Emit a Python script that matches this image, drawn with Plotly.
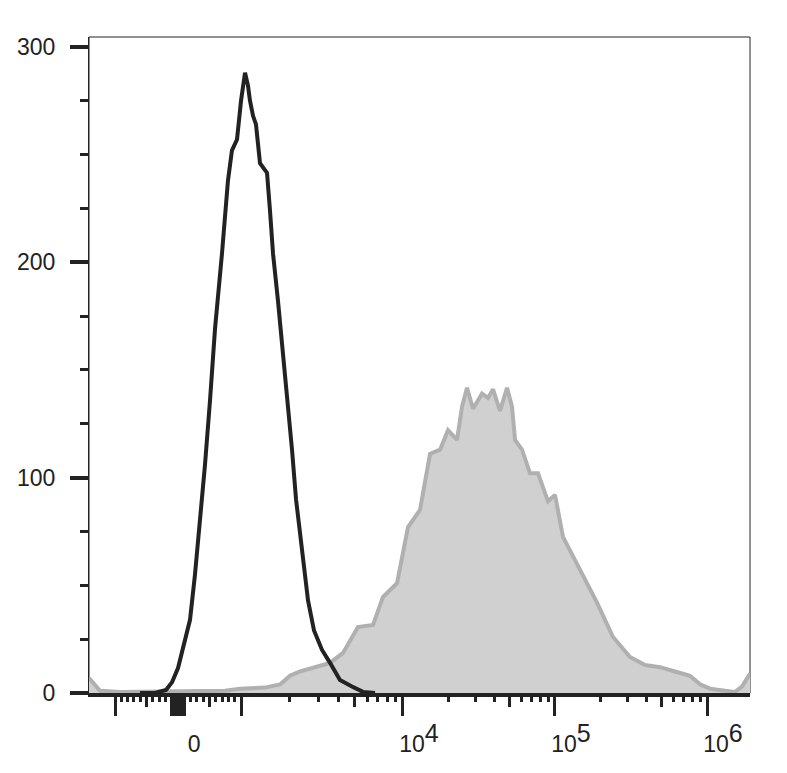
import numpy as np
import plotly.graph_objects as go

# display channels (0-1024) on a biexponential-style scale
unstained_ch = [79.0, 102.2, 119.3, 128.6, 137.9, 147.2, 156.5, 164.2, 172.0, 179.7,
                187.5, 195.2, 206.0, 215.3, 221.5, 229.3, 235.5, 241.7, 246.3, 249.4,
                254.1, 258.7, 264.9, 271.1, 275.8, 280.4, 285.1, 292.8, 300.5, 306.7,
                314.5, 320.7, 330.0, 339.3, 348.6, 361.0, 373.4, 388.8, 407.4, 424.5, 443.1]
unstained_count = [0, 0, 1.4, 5, 11.6, 22, 34, 55, 80, 106,
                   136, 169, 204, 238, 252, 257, 275, 288, 282, 275,
                   268, 264, 246, 243, 241.5, 224, 204, 182, 159, 136,
                   113, 90, 66, 43, 29, 20, 14, 6, 3, 0.5, 0]

stained_ch = [0.0, 7.7, 17.0, 48.0, 210.7, 233.9, 272.7, 295.9, 311.4, 326.9,
              350.1, 373.4, 393.5, 416.7, 440.0, 455.5, 477.2, 494.2, 512.8, 528.3,
              543.8, 556.2, 570.1, 577.9, 585.6, 594.9, 608.8, 618.1, 625.9, 636.7,
              647.6, 655.3, 660.0, 670.8, 683.2, 695.6, 711.1, 721.9, 734.3, 760.7,
              787.0, 811.8, 838.1, 861.4, 884.6, 907.8, 931.1, 946.6, 962.1, 985.3,
              1000.8, 1011.6, 1024.0]
stained_count = [7, 4, 1, 0.5, 1, 2, 2.5, 4, 8, 10,
                 12, 14, 18.6, 30.6, 31.6, 44.6, 51, 77, 85, 111,
                 113, 122, 117.5, 133, 141.7, 132, 139, 137, 141, 131,
                 141.7, 133, 117.5, 113, 102, 102, 89, 92, 72.5, 57,
                 42, 26, 16.7, 13, 12, 10, 8, 4, 2, 1,
                 0.5, 3, 9]

y_major = [0, 100, 200, 300]

# scale: linear around zero, log decades further out
ZERO_CH = 137.9
LIN_SLOPE = 0.0976
DEC_EXP = [3, 4, 5, 6, 7]
DEC_CH = [235.5, 486.4, 721.9, 957.4, 1192.9]


def to_channel(v):
    v = np.asarray(v, dtype=float)
    lin = ZERO_CH + LIN_SLOPE * v
    logv = np.interp(np.log10(np.clip(np.abs(v), 1000, None)), DEC_EXP, DEC_CH)
    return np.where(np.abs(v) <= 1000, lin, logv)


big_vals = [-1000] + list(range(-100, 101, 20)) + [1000, 1e4, 1e5, 1e6]
mid_vals = [-500, 500, 5e3, 5e4, 5e5]
small_vals = [s * v for v in (200, 300, 400, 600, 700, 800, 900) for s in (-1, 1)]
for dec in (1e3, 1e4, 1e5):
    small_vals += [m * dec for m in (2, 3, 4, 6, 7, 8, 9)]
small_vals += [2e6]

sup = '<sup><span style="font-size:25px">%d</span></sup>'
label_map = {0: '0', 1e4: '10' + sup % 4, 1e5: '10' + sup % 5, 1e6: '10' + sup % 6}
big_text = [label_map.get(v, '') for v in big_vals]

ink = '#222222'
font = dict(family='Liberation Sans, Arial, sans-serif', size=23, color=ink)

fig = go.Figure()
fig.add_trace(go.Scatter(
    x=stained_ch, y=stained_count, mode='lines',
    fill='tozeroy', fillcolor='#d0d0d0',
    line=dict(color='#b0b0b0', width=4),
    showlegend=False, hoverinfo='skip'))
fig.add_trace(go.Scatter(
    x=unstained_ch, y=unstained_count, mode='lines',
    line=dict(color=ink, width=4),
    showlegend=False, hoverinfo='skip'))
# empty traces so the overlaid tick axes get drawn
for ax in ('x2', 'x3'):
    fig.add_trace(go.Scatter(x=[], y=[], xaxis=ax, showlegend=False, hoverinfo='skip'))

xr = [0, 1024]
fig.update_layout(
    width=779, height=765,
    margin=dict(l=81, r=37, t=29, b=80, autoexpand=False),
    paper_bgcolor='white', plot_bgcolor='white',
    font=font,
    xaxis=dict(range=xr, showgrid=False, zeroline=False, automargin=False,
               showline=True, linewidth=4, linecolor=ink,
               tickmode='array', tickvals=list(to_channel(big_vals)), ticktext=big_text,
               ticks='outside', ticklen=19, tickwidth=3, tickcolor=ink,
               ticklabelshift=16, ticklabelstandoff=8, tickfont=font),
    xaxis2=dict(range=xr, overlaying='x', anchor='y', side='bottom', automargin=False,
                showgrid=False, zeroline=False, showline=False,
                tickmode='array', tickvals=list(to_channel(mid_vals)),
                ticks='outside', ticklen=13, tickwidth=3, tickcolor=ink,
                showticklabels=False),
    xaxis3=dict(range=xr, overlaying='x', anchor='y', side='bottom', automargin=False,
                showgrid=False, zeroline=False, showline=False,
                tickmode='array', tickvals=list(to_channel(small_vals)),
                ticks='outside', ticklen=8, tickwidth=3, tickcolor=ink,
                showticklabels=False),
    yaxis=dict(range=[0, 304.6], showgrid=False, zeroline=False, automargin=False,
               showline=True, linewidth=1, linecolor=ink,
               tickmode='array', tickvals=y_major,
               ticks='outside', ticklen=18, tickwidth=4, tickcolor=ink,
               minor=dict(dtick=25, ticks='outside', ticklen=8, tickwidth=3, tickcolor=ink),
               ticklabelstandoff=10, tickfont=font),
    shapes=[dict(type='rect', xref='paper', yref='paper', x0=0, x1=1, y0=0, y1=1,
                 line=dict(color=ink, width=1), layer='below')],
)

fig.write_html('out.html')
